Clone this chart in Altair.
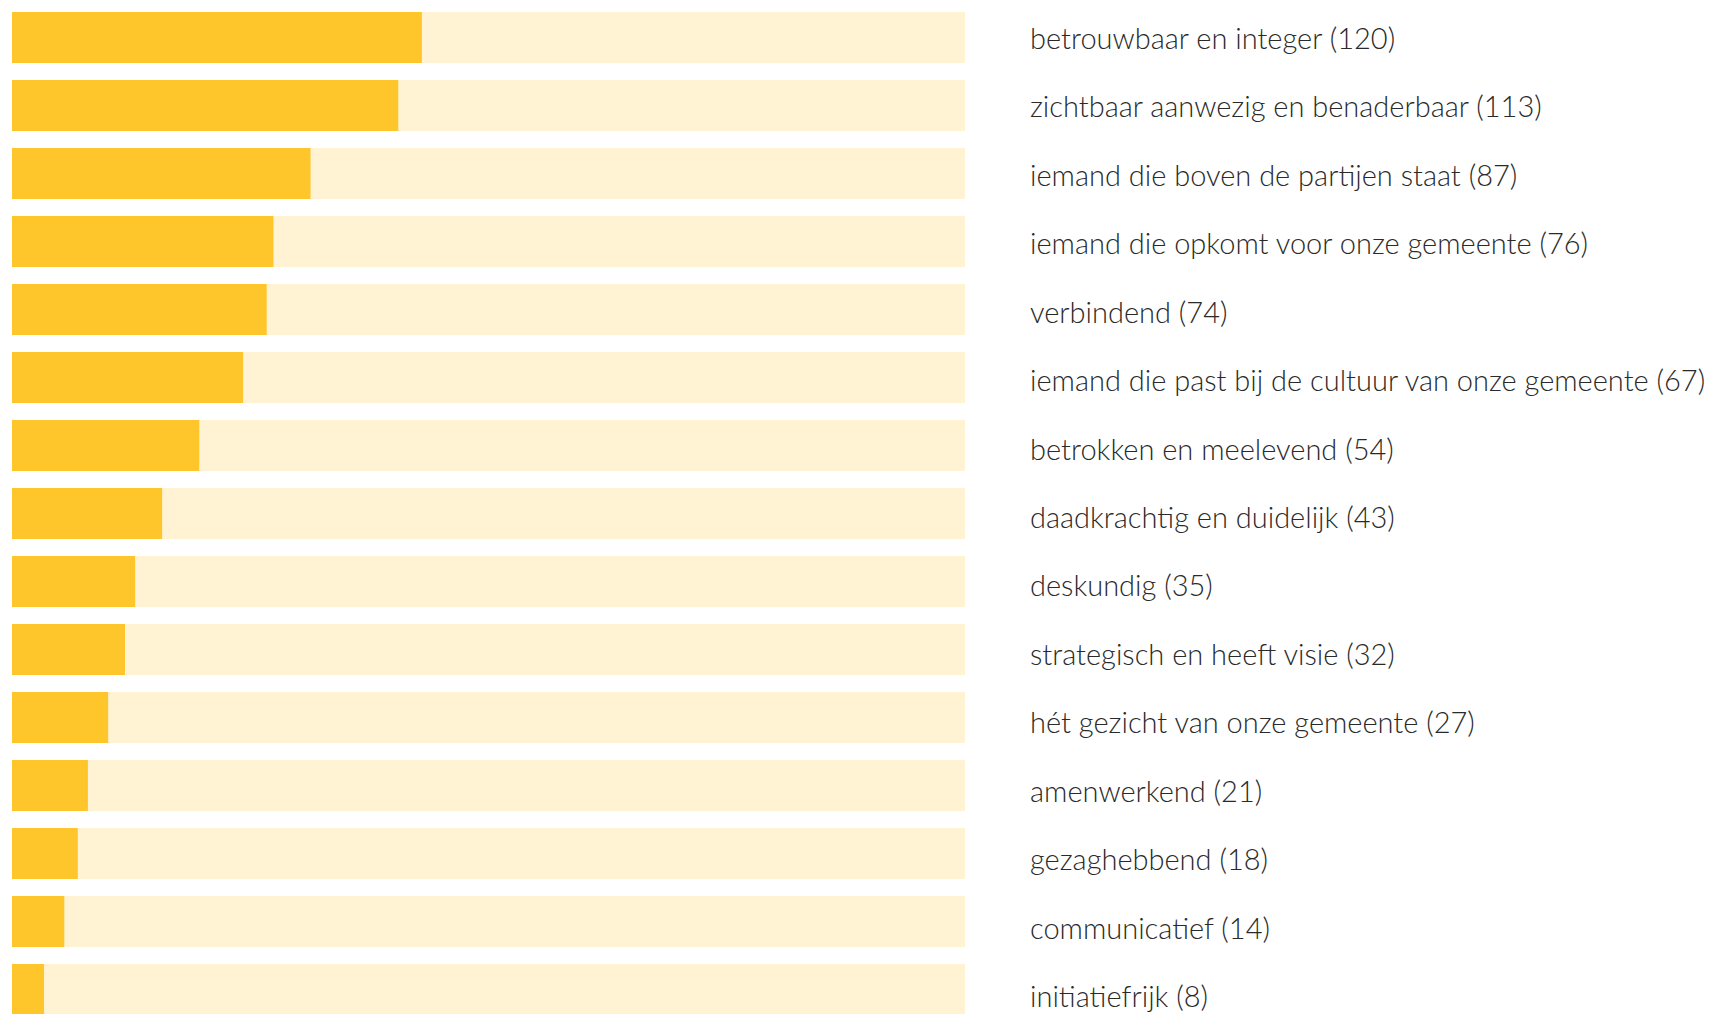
import altair as alt
import pandas as pd

categories = [
    "betrouwbaar en integer",
    "zichtbaar aanwezig en benaderbaar",
    "iemand die boven de partijen staat",
    "iemand die opkomt voor onze gemeente",
    "verbindend",
    "iemand die past bij de cultuur van onze gemeente",
    "betrokken en meelevend",
    "daadkrachtig en duidelijk",
    "deskundig",
    "strategisch en heeft visie",
    "hét gezicht van onze gemeente",
    "amenwerkend",
    "gezaghebbend",
    "communicatief",
    "initiatiefrijk",
]
counts = [120, 113, 87, 76, 74, 67, 54, 43, 35, 32, 27, 21, 18, 14, 8]

labels = [f"{c} ({n})" for c, n in zip(categories, counts)]
df = pd.DataFrame({"label": labels, "value": counts})

XMIN, XMAX = -1.5, 281
YELLOW = "#FEC62B"
LIGHT = "#FFF3D3"

xscale = alt.Scale(domain=[XMIN, XMAX], nice=False, zero=False)
ybars = alt.Y(
    "label:N",
    sort=None,
    scale=alt.Scale(paddingInner=0.25, paddingOuter=0, range=[0, 1003]),
    axis=None,
)
ytext = alt.Y(
    "label:N",
    sort=None,
    scale=alt.Scale(type="point", padding=0, range=[37, 995]),
    axis=None,
)

base = alt.Chart(df).transform_calculate(lo=str(XMIN), hi=str(XMAX))

bg = base.mark_bar(color=LIGHT, clip=True).encode(
    y=ybars,
    x=alt.X("lo:Q", scale=xscale, axis=None),
    x2="hi:Q",
)

fg = base.mark_bar(color=YELLOW, clip=True).encode(
    y=ybars,
    x=alt.X("lo:Q", scale=xscale, axis=None),
    x2="value:Q",
)

txt = base.mark_text(
    align="left",
    baseline="alphabetic",
    dx=65,
    font="Lato Light, Lato",
    fontWeight=300,
    fontSize=29,
    color="#2a2a2a",
).encode(
    y=ytext,
    x=alt.X("hi:Q", scale=xscale, axis=None),
    text="label:N",
)

chart = (
    alt.layer(bg, fg, txt)
    .resolve_scale(y="independent")
    .properties(
        width=953,
        height=1002,
        background="white",
        padding={"left": 12, "top": 12, "right": 747, "bottom": 0},
        autosize=alt.AutoSizeParams(type="none"),
    )
    .configure_view(stroke=None, strokeWidth=0)
)

chart.save("out.html", embed_options={"renderer": "svg", "actions": False})
